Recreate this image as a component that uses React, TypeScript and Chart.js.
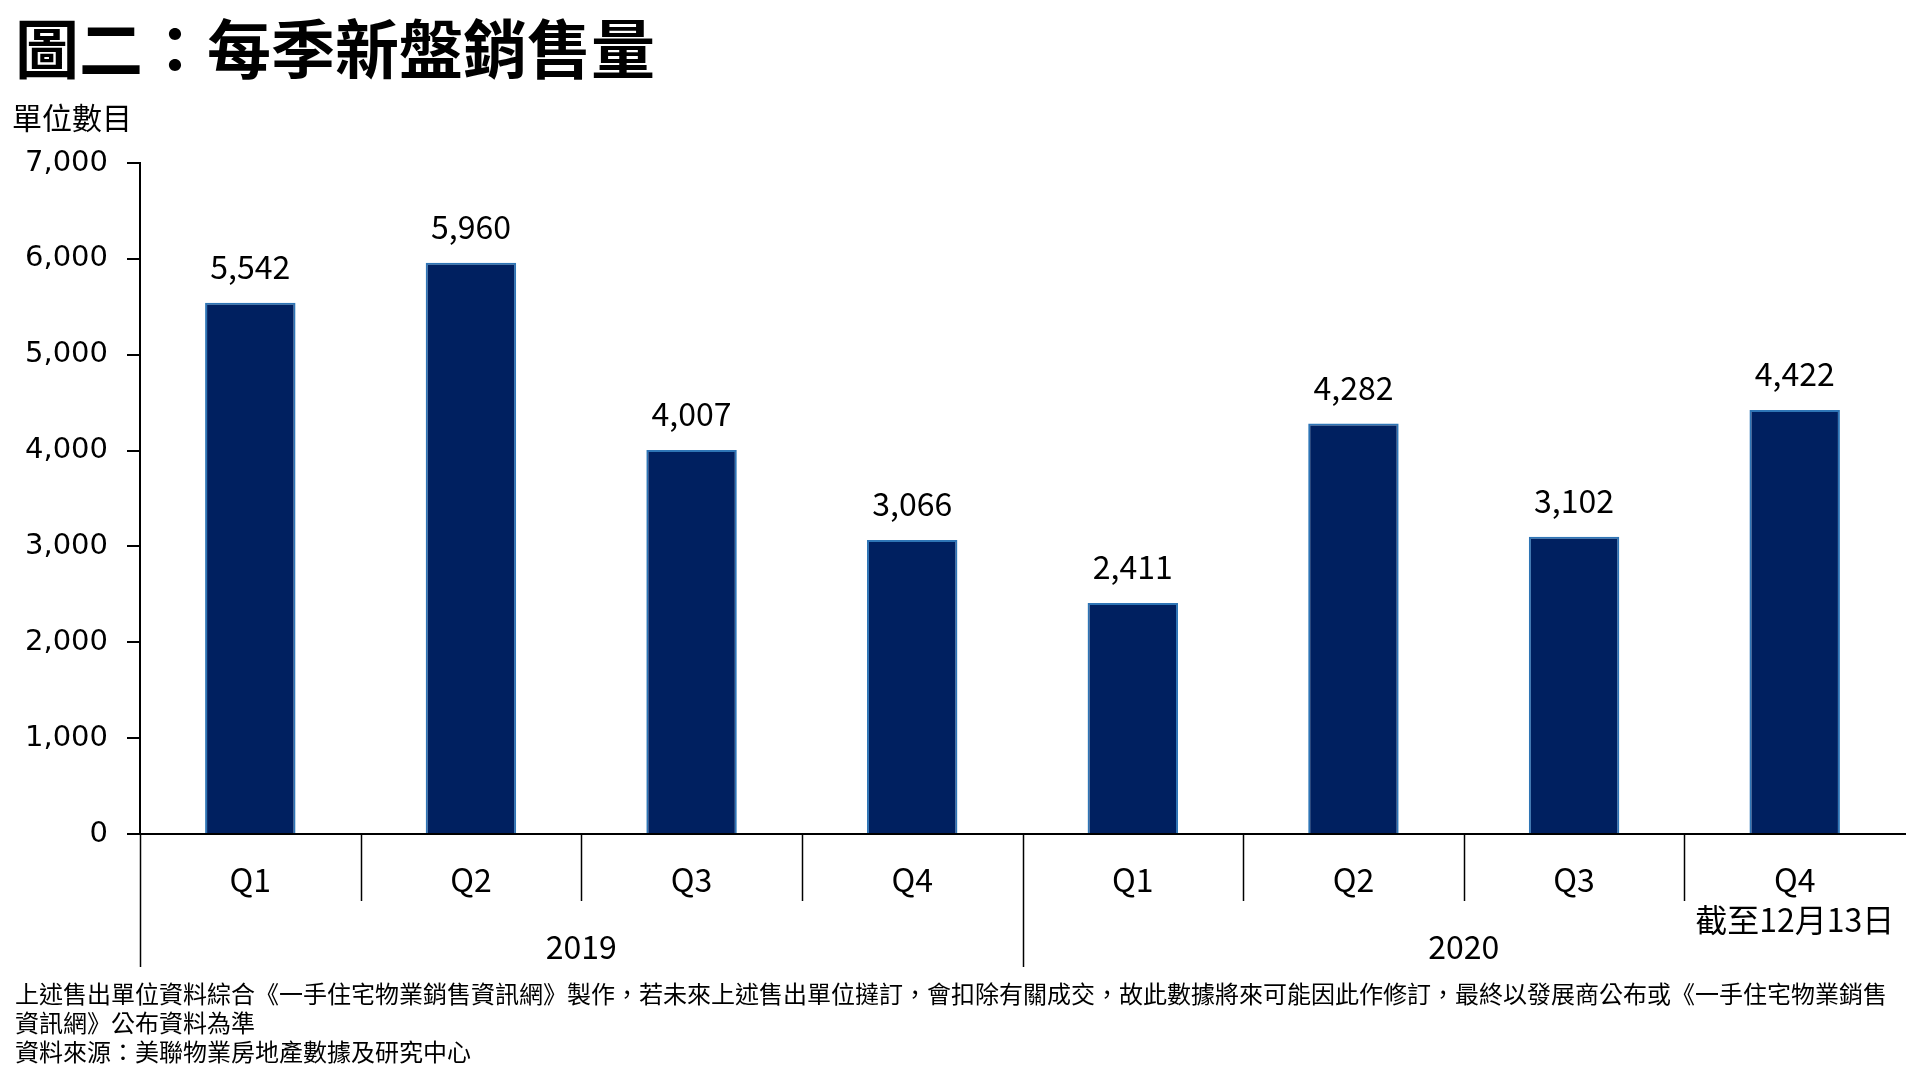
import React, { useEffect, useRef } from "react";
import { Chart, registerables } from "chart.js";
Chart.register(...registerables);

const title = "圖二：每季新盤銷售量";
const unitLabel = "單位數目";
const quarters = ["Q1", "Q2", "Q3", "Q4", "Q1", "Q2", "Q3", "Q4"];
const years = ["2019", "2020"];
const quartersPerYear = 4;
const sales = [5542, 5960, 4007, 3066, 2411, 4282, 3102, 4422];
const lastNote = "截至12月13日";
const yMax = 7000;
const yStep = 1000;
const footLines = [
  "上述售出單位資料綜合《一手住宅物業銷售資訊網》製作，若未來上述售出單位撻訂，會扣除有關成交，故此數據將來可能因此作修訂，最終以發展商公布或《一手住宅物業銷售",
  "資訊網》公布資料為準",
  "資料來源：美聯物業房地產數據及研究中心",
];

const CJK = '"Noto Sans CJK TC", "Noto Sans", sans-serif';

const annotPlugin = {
  id: "annot",
  afterDraw(chart: any) {
    const ctx = chart.ctx;
    const x = chart.scales.x;
    const y = chart.scales.y;
    const meta = chart.getDatasetMeta(0);
    ctx.save();
    ctx.fillStyle = "#000";
    ctx.textAlign = "center";
    ctx.textBaseline = "middle";
    ctx.font = `32px ${CJK}`;
    meta.data.forEach((bar: any, i: number) => {
      ctx.fillText(sales[i].toLocaleString("en-US"), bar.x, bar.y - 36);
    });
    const n = quarters.length;
    const w = (x.right - x.left) / n;
    const axisY = y.getPixelForValue(0);
    ctx.strokeStyle = "#000";
    ctx.lineWidth = 1.5;
    for (let i = 0; i < n; i++) {
      const bx = Math.round(x.getPixelForValue(i) - w / 2) + 0.5;
      const isYear = i % quartersPerYear === 0;
      ctx.beginPath();
      ctx.moveTo(bx, axisY);
      ctx.lineTo(bx, axisY + (isYear ? 133 : 67));
      ctx.stroke();
    }
    ctx.font = `32px ${CJK}`;
    quarters.forEach((q, i) => ctx.fillText(q, x.getPixelForValue(i), axisY + 46));
    ctx.font = `32px ${CJK}`;
    ctx.fillText(lastNote, x.getPixelForValue(n - 1), axisY + 86);
    ctx.font = `32px ${CJK}`;
    years.forEach((yr, j) => {
      const c =
        (x.getPixelForValue(j * quartersPerYear) +
          x.getPixelForValue(j * quartersPerYear + quartersPerYear - 1)) /
        2;
      ctx.fillText(yr, c, axisY + 113);
    });
    ctx.restore();
  },
};

export default function App() {
  const ref = useRef<HTMLCanvasElement>(null);
  useEffect(() => {
    if (!ref.current) return;
    const chart = new Chart(ref.current, {
      type: "bar",
      data: {
        labels: quarters.map((q, i) => `${years[Math.floor(i / quartersPerYear)]} ${q}`),
        datasets: [
          {
            data: sales,
            backgroundColor: "#002060",
            borderColor: "#2e75b6",
            borderWidth: 2,
            categoryPercentage: 1,
            barPercentage: 0.41,
          },
        ],
      },
      options: {
        responsive: false,
        animation: false,
        layout: { padding: { top: 163, left: 0, right: 15, bottom: 0 } },
        plugins: { legend: { display: false }, tooltip: { enabled: false } },
        scales: {
          x: {
            offset: true,
            grid: { display: false },
            ticks: { display: false },
            border: { display: true, color: "#000", width: 2 },
            afterFit: (s: any) => {
              s.height = 1080 - 834;
            },
          },
          y: {
            min: 0,
            max: yMax,
            ticks: {
              stepSize: yStep,
              color: "#000",
              padding: 19,
              font: { family: '"DejaVu Sans"', size: 29 },
            },
            grid: {
              drawOnChartArea: false,
              drawTicks: true,
              tickLength: 13,
              color: "#000",
              lineWidth: 2,
            },
            border: { display: true, color: "#000", width: 2 },
            afterFit: (s: any) => {
              s.width = 140;
            },
          },
        },
      },
      plugins: [annotPlugin],
    });
    return () => chart.destroy();
  }, []);

  return (
    <div style={{ position: "relative", width: 1920, height: 1080, background: "#fff", overflow: "hidden" }}>
      <style>{`body{margin:0;background:#fff}`}</style>
      <canvas ref={ref} width={1920} height={1080} style={{ position: "absolute", left: 0, top: 0 }} />
      <div
        style={{
          position: "absolute",
          left: 15,
          top: 46 - 46,
          fontFamily: CJK,
          fontWeight: 700,
          fontSize: 64,
          lineHeight: "90px",
          color: "#000",
          whiteSpace: "nowrap",
        }}
      >
        {title}
      </div>
      <div
        style={{
          position: "absolute",
          left: 12,
          top: 116 - 20,
          fontFamily: CJK,
          fontSize: 30,
          lineHeight: "40px",
          color: "#000",
          whiteSpace: "nowrap",
        }}
      >
        {unitLabel}
      </div>
      <div
        style={{
          position: "absolute",
          left: 15,
          top: 993 - 15,
          fontFamily: CJK,
          fontSize: 24,
          lineHeight: "29px",
          color: "#000",
          whiteSpace: "nowrap",
        }}
      >
        {footLines.map((l, i) => (
          <div key={i}>{l}</div>
        ))}
      </div>
    </div>
  );
}
